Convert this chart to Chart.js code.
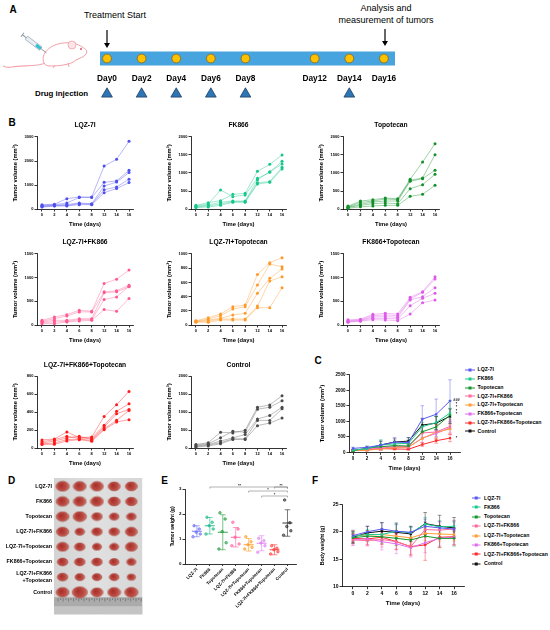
<!DOCTYPE html>
<html><head><meta charset="utf-8">
<script src="https://cdn.jsdelivr.net/npm/chart.js@4.4.0/dist/chart.umd.min.js"></script>
<style>
html,body{margin:0;padding:0;background:#fff;}
#page{position:relative;width:550px;height:630px;overflow:hidden;font-family:"Liberation Sans",Arial,sans-serif;color:#000;}
canvas{position:absolute;}
.t{position:absolute;white-space:nowrap;color:#000;}
</style></head><body><div id="page">
<svg width="95" height="45" style="position:absolute;left:0;top:30px">
 <path d="M46,33 C36,37 22,35 12,37 C8,38 5,37 3,36" fill="none" stroke="#f4a7b0" stroke-width="1.2"/>
 <path d="M44,33 C40,24 50,14 64,13 C72,12 78,14 82,17 C86,19 88,21 86,24 C84,27 80,28 76,30 C72,34 62,36 50,36 C47,36 45,35 44,33 Z" fill="#fff" stroke="#f2a0a8" stroke-width="1"/>
 <ellipse cx="72" cy="15" rx="4" ry="4" fill="#fce4e7" stroke="#f2a0a8" stroke-width="0.8"/>
 <circle cx="81" cy="19" r="0.9" fill="#d94060"/>
 <path d="M55,35 l-2,3 M68,33 l1,4" stroke="#f2a0a8" stroke-width="1"/>
 <g transform="rotate(37 36 15)">
  <rect x="24" y="13" width="18" height="4" fill="#e8eef3" stroke="#8a9aa8" stroke-width="0.6"/>
  <rect x="36" y="13.5" width="6" height="3" fill="#33c0d0"/>
  <line x1="42" y1="15" x2="49" y2="15" stroke="#666" stroke-width="0.6"/>
  <line x1="19" y1="15" x2="24" y2="15" stroke="#8a9aa8" stroke-width="1"/>
  <line x1="19" y1="12.5" x2="19" y2="17.5" stroke="#8a9aa8" stroke-width="1"/>
 </g>
</svg>
<svg width="550" height="60" style="position:absolute;left:0;top:0">
 <line x1="107" y1="30" x2="107" y2="44" stroke="#000" stroke-width="1.2"/>
 <polygon points="104,43 110,43 107,48" fill="#000"/>
 <line x1="385" y1="29" x2="385" y2="42" stroke="#000" stroke-width="1.2"/>
 <polygon points="382,41 388,41 385,46" fill="#000"/>
</svg>
</div>
<script>
// ===================== DATA =====================
const dayTickLabels = ['0','2','4','6','8','12','14','16'];
const timelineDays = [0,2,4,6,8,12,14,16];
const injectionDays = [0,2,4,6,8,14];
const groups = ['LQZ-7I','FK866','Topotecan','LQZ-7I+FK866','LQZ-7I+Topotecan','FK866+Topotecan','LQZ-7I+FK866+Topotecan','Control'];
const photoLabels = [['LQZ-7I'],['FK866'],['Topotecan'],['LQZ-7I+FK866'],['LQZ-7I+Topotecan'],['FK866+Topotecan'],['LQZ-7I+FK866','+Topotecan'],['Control']];

// B: individual tumor volumes (mm³), one row per mouse, days 0..16
const volLQZ7I = [
 [180,200,430,500,500,1790,2070,2820],
 [150,180,250,480,480,1110,1170,1610],
 [120,160,190,250,220,960,1120,1520],
 [100,140,150,220,200,800,920,1240],
 [80,120,130,180,180,680,850,1100]];
const volFK866 = [
 [102,176,231,407,435,1046,1240,1500],
 [83,139,528,343,389,852,1019,1324],
 [65,111,185,222,222,806,1037,1250],
 [56,83,139,204,204,732,760,1157],
 [37,56,102,185,185,694,741,1111]];
const volTopotecan = [
 [80,220,259,305,287,824,1305,1815],
 [60,180,222,278,259,796,861,1510],
 [50,130,194,222,222,768,843,1075],
 [40,100,148,167,148,565,676,963],
 [20,60,83,102,102,352,407,657]];
const volLQZ_FK = [
 [99,170,219,311,290,877,969,1160],
 [78,134,191,276,276,700,721,841],
 [64,99,99,134,134,680,700,806],
 [50,64,78,113,113,537,594,820],
 [28,28,64,85,99,325,290,560]];
const volLQZ_Topo = [
 [60,103,155,258,281,713,877,947],
 [55,84,131,225,258,563,858,821],
 [50,70,94,141,164,446,657,788],
 [45,56,84,84,84,267,619,680],
 [40,38,70,70,70,244,244,525]];
const volFK_Topo = [
 [110,120,225,246,232,584,704,1020],
 [90,110,197,211,197,549,690,971],
 [80,100,169,176,162,528,598,788],
 [70,90,141,141,127,408,563,669],
 [60,80,113,106,92,232,471,528]];
const volTriple = [
 [90,100,178,115,122,351,481,629],
 [70,93,130,107,111,252,407,492],
 [55,78,111,130,96,233,381,429],
 [45,56,93,100,85,215,307,418],
 [40,41,78,93,74,204,289,315]];
const volControl = [
 [100,146,438,420,493,1132,1196,1452],
 [82,119,283,466,438,1077,1132,1315],
 [55,100,192,283,374,803,904,1132],
 [37,82,146,256,256,767,767,1087],
 [27,55,119,237,237,621,694,831]];

// C: mean tumor volume and SD per group
const cMean = [
 [126,160,230,326,316,1068,1226,1658],
 [69,113,237,272,287,826,959,1268],
 [50,138,181,215,204,661,818,1204],
 [64,99,130,184,182,624,655,837],
 [50,70,107,156,171,447,651,752],
 [82,100,169,176,162,460,605,795],
 [60,74,118,109,98,251,373,457],
 [60,100,236,332,360,880,939,1163]];
const cSD = [
 [40,32,121,152,159,435,490,681],
 [25,47,170,97,115,137,209,152],
 [22,63,68,81,76,200,327,455],
 [27,56,70,102,92,206,245,213],
 [8,25,36,84,96,201,254,159],
 [19,16,44,55,55,143,95,206],
 [20,25,39,14,19,59,78,115],
 [31,34,130,103,112,216,219,237]];

// D: tumor sizes in the photo (relative radius), rows = groups, 5 tumors each
const tumorSize = [
 [6.0,5.8,5.8,5.4,5.4],
 [5.8,5.8,5.8,5.4,5.2],
 [5.8,6.0,4.8,4.4,4.4],
 [5.6,4.4,4.8,4.8,5.4],
 [5.4,4.8,4.2,4.2,5.4],
 [4.8,4.8,4.8,4.4,4.2],
 [4.8,4.4,4.4,4.4,3.8],
 [5.8,6.8,5.4,5.8,6.0]];

// E: tumor weights (g)
const wLQZ7I = [1.53,1.40,1.27,1.20,1.09];
const wFK866 = [1.87,1.67,1.53,1.40,1.20];
const wTopotecan = [2.05,1.80,1.30,0.85,0.60];
const wLQZ_FK = [1.67,1.40,1.07,0.80,0.73];
const wLQZ_Topo = [1.09,0.89,0.77,0.67,0.60];
const wFK_Topo = [1.03,0.93,0.84,0.73,0.47];
const wTriple = [0.73,0.63,0.57,0.49,0.40];
const wControl = [2.56,1.65,1.50,1.33,1.15];
const wMean = [1.31,1.53,1.27,1.07,0.77,0.83,0.57,1.64];
const wSD = [0.22,0.33,0.70,0.39,0.25,0.30,0.20,0.53];
const eBrackets = [
 {from:1,to:7,y:3.08,label:'**',at:3.3},
 {from:6,to:7,y:3.08,label:'**',at:6.5},
 {from:4,to:7,y:2.92,label:'*',at:5.5},
 {from:5,to:7,y:2.72,label:'*',at:6.0}];

// F: body weight mean and SD (g)
const fMean = [
 [19.3,20.0,20.5,20.1,19.9,21.0,20.7,20.5],
 [19.2,19.5,19.5,20.1,19.8,21.4,20.9,21.0],
 [18.9,19.2,19.1,18.8,18.5,19.2,18.8,18.8],
 [18.5,18.4,18.6,18.2,17.3,20.4,20.3,20.5],
 [19.3,19.4,19.5,19.2,18.9,19.7,19.6,19.5],
 [18.6,18.7,18.2,17.8,17.1,18.0,18.8,19.0],
 [18.8,18.7,19.0,18.2,17.3,17.6,19.0,19.1],
 [19.0,19.8,20.1,19.9,19.6,21.5,21.0,20.7]];
const fSD = [
 [1.0,1.0,1.1,1.2,1.0,1.3,1.2,1.3],
 [0.8,0.9,1.0,1.3,1.0,1.2,1.1,1.0],
 [0.9,1.0,1.2,1.3,1.2,1.5,1.6,1.4],
 [1.0,1.0,1.4,1.5,1.6,1.4,1.5,1.6],
 [0.9,0.8,1.0,1.1,1.2,1.3,1.3,1.2],
 [1.0,1.2,1.5,1.8,1.7,1.8,1.4,1.3],
 [0.8,1.0,1.3,1.4,1.5,2.8,1.9,1.5],
 [1.1,1.2,1.6,1.7,1.4,2.0,2.0,1.9]];

// ===================== STYLE =====================
const colMain = ['#5a5af2','#1ec98e','#16962a','#ff6a9c','#ff9e33','#e06cf0','#ff2b2b','#111111'];
const colPt = ['#4f4ff0','#18c68a','#12902a','#ff5a92','#ff9a2a','#dc5ce6','#ff1a1a','#4a4a4a'];
const colE = ['#6a6af5','#15b985','#1c9a38','#ff5c9c','#ff9a20','#e07ef0','#ff3535','#222222'];
const FONT = '"Liberation Sans", Arial, sans-serif';
Chart.defaults.font.family = FONT;
Chart.defaults.color = '#000';
Chart.defaults.animation = false;
Chart.defaults.responsive = false;
Chart.defaults.plugins.legend.display = false;
Chart.defaults.plugins.tooltip.enabled = false;
const page = document.getElementById('page');

function rgba(hex,a){const n=parseInt(hex.slice(1),16);return `rgba(${n>>16},${(n>>8)&255},${n&255},${a})`;}
function mkCanvas(l,t,w,h){const c=document.createElement('canvas');c.width=w;c.height=h;c.style.left=l+'px';c.style.top=t+'px';page.appendChild(c);return c;}
function txt(s,x,y,o={}){
  const d=document.createElement('div');d.className='t';d.textContent=s;
  const size=o.size||8;
  d.style.fontSize=size+'px';d.style.lineHeight=size+'px';d.style.fontWeight=o.weight||'normal';
  d.style.top=(y-size/2)+'px';
  if(o.align==='center'){d.style.left=x+'px';d.style.transform='translateX(-50%)';}
  else if(o.align==='right'){d.style.right=(550-x)+'px';}
  else d.style.left=x+'px';
  page.appendChild(d);
}
function frame(f){
  const l=Math.floor(f.x0-f.yW-(f.padL??2));
  const r=Math.ceil(f.x1+(f.padR??10));
  let t,layoutTop,titleCfg={display:false};
  if(f.title){
    const th=f.titleSize*1.2, tTop=f.titleCy-th/2;
    t=Math.floor(tTop-1);layoutTop=tTop-t;
    titleCfg={display:true,text:f.title,fullSize:false,color:'#000',font:{size:f.titleSize,weight:'bold',lineHeight:1.2},padding:{top:0,bottom:f.y0-(f.titleCy+th/2)}};
  } else {t=Math.floor(f.y0-(f.padT??6));layoutTop=f.y0-t;}
  const b=Math.ceil(f.y1+f.xH+(f.padB??2));
  const cv=mkCanvas(l,t,r-l,b-t);
  return {cv,titleCfg,padding:{left:f.x0-f.yW-l,right:r-f.x1,top:layoutTop,bottom:b-f.y1-f.xH}};
}
const gridOpt={display:true,drawOnChartArea:false,drawTicks:true,tickLength:2.5,color:'#000',lineWidth:0.8};
const borderOpt={display:true,color:'#000',width:0.8};
function yAxis(o){return{type:'linear',min:o.min,max:o.max,
  ticks:{stepSize:o.step,font:{size:o.tick,weight:'bold'},padding:1,color:'#000',callback:v=>String(v)},
  grid:gridOpt,border:borderOpt,
  title:{display:true,text:o.title,color:'#000',font:{size:o.titleSize,weight:'bold',lineHeight:1.2},padding:0},
  afterFit:s=>{s.width=o.w;}};}
function xAxis(o){return{type:'linear',min:o.min,max:o.max,
  afterBuildTicks:s=>{s.ticks=o.labels.map((_,i)=>({value:i}));},
  ticks:{autoSkip:false,maxRotation:o.rot||0,minRotation:o.rot||0,font:{size:o.tick,weight:'bold'},padding:1,color:'#000',callback:v=>o.labels[Math.round(v)]},
  grid:Object.assign({},gridOpt,{tickLength:o.tl??2.5}),border:borderOpt,
  title:{display:!!o.title,text:o.title,color:'#000',font:{size:o.titleSize,weight:'bold',lineHeight:1.2},padding:0},
  afterFit:s=>{s.height=o.h;}};}

// ===================== PANEL LETTERS & TEXT =====================
[['A',13,10],['B',12,123],['C',318,360.5],['D',11.5,481],['E',164.5,481],['F',315,481]].forEach(([s,x,y])=>txt(s,x,y,{size:10,weight:'bold',align:'center'}));
txt('Treatment Start',115,15,{size:9,align:'center'});
txt('Analysis and',386,8.5,{size:9,align:'center'});
txt('measurement of tumors',386,20.5,{size:9,align:'center'});
txt('Drug injection',61.5,94,{size:7.9,weight:'bold',align:'center'});

// ===================== A: timeline =====================
(function(){
  const cv=mkCanvas(0,40,550,50);
  const barPlugin={id:'bar',beforeDatasetsDraw(ch){const a=ch.chartArea,c=ch.ctx;c.save();c.fillStyle='#47a4de';c.fillRect(a.left,a.top,a.right-a.left,a.bottom-a.top);c.restore();}};
  new Chart(cv,{type:'scatter',
    data:{datasets:[{data:timelineDays.map(d=>({x:d,y:0.5})),pointRadius:4.4,pointBackgroundColor:'#ffc000',pointBorderColor:'#8a6a10',pointBorderWidth:0.8,clip:false}]},
    options:{layout:{padding:{left:100,right:155,top:11.5,bottom:4.5}},
      scales:{x:{type:'linear',min:-0.404,max:16.64,afterBuildTicks:s=>{s.ticks=timelineDays.map(v=>({value:v}));},
        ticks:{autoSkip:false,maxRotation:0,font:{size:8.3,weight:'bold'},padding:8,color:'#000',callback:v=>'Day'+v},
        grid:{display:false,drawTicks:false},border:{display:false},afterFit:s=>{s.height=20;}},
        y:{display:false,min:0,max:1}}},
    plugins:[barPlugin]});
  const cv2=mkCanvas(0,86,550,16);
  new Chart(cv2,{type:'scatter',
    data:{datasets:[{data:injectionDays.map(d=>({x:d,y:0.5})),pointStyle:'triangle',pointRadius:6.2,pointBackgroundColor:'#2e75b6',pointBorderColor:'#1f3f60',pointBorderWidth:0.8,clip:false}]},
    options:{layout:{padding:{left:100,right:155,top:0,bottom:0}},
      scales:{x:{display:false,type:'linear',min:-0.404,max:16.64},y:{display:false,min:0,max:1}}}});
})();

// ===================== B: individual growth curves =====================
const bCols=[{x0:37,x1:133},{x0:191,x1:286},{x0:343,x1:439}];
const bRows=[{ty:125,y0:137,y1:209},{ty:242,y0:254,y1:325},{ty:365,y0:376,y1:448}];
const bPanels=[
 {vols:volLQZ7I,max:3000,step:1000,c:0,r:0,g:0},
 {vols:volFK866,max:2000,step:500,c:1,r:0,g:1},
 {vols:volTopotecan,max:2000,step:500,c:2,r:0,g:2},
 {vols:volLQZ_FK,max:1500,step:500,c:0,r:1,g:3},
 {vols:volLQZ_Topo,max:1000,step:200,c:1,r:1,g:4},
 {vols:volFK_Topo,max:1500,step:500,c:2,r:1,g:5},
 {vols:volTriple,max:800,step:200,c:0,r:2,g:6},
 {vols:volControl,max:2000,step:500,c:1,r:2,g:7}];
bPanels.forEach(p=>{
  const C=bCols[p.c],R=bRows[p.r];
  const f=frame({x0:C.x0,x1:C.x1,y0:R.y0,y1:R.y1,yW:25.5,xH:18.5,title:groups[p.g],titleSize:6.7,titleCy:R.ty});
  const lineCol = p.g===7 ? 'rgba(120,120,120,0.55)' : rgba(colPt[p.g],0.45);
  new Chart(f.cv,{type:'scatter',
    data:{datasets:p.vols.map(v=>({data:v.map((y,i)=>({x:i,y})),showLine:true,borderColor:lineCol,borderWidth:0.9,
      pointRadius:1.5,pointBackgroundColor:colPt[p.g],pointBorderWidth:0,clip:false}))},
    options:{layout:{padding:f.padding},plugins:{title:f.titleCfg},
      scales:{x:xAxis({min:-0.4,max:7.32,labels:dayTickLabels,tick:4,h:18.5,title:'Time (days)',titleSize:5.8}),
              y:yAxis({min:0,max:p.max,step:p.step,tick:4,w:25.5,title:'Tumor volume (mm³)',titleSize:5.8})}}});
});

// error bar plugin for C and F
const errPlugin={id:'errbars',beforeDatasetsDraw(ch){
  const c=ch.ctx,x=ch.scales.x,y=ch.scales.y;
  ch.data.datasets.forEach(ds=>{
    if(!ds.errorBars)return;
    c.save();c.strokeStyle=ds.borderColor;c.globalAlpha=0.75;c.lineWidth=0.6;
    ds.data.forEach((p,i)=>{
      const e=ds.errorBars[i],px=x.getPixelForValue(p.x),yt=y.getPixelForValue(p.y+e),yb=y.getPixelForValue(p.y-e);
      c.beginPath();c.moveTo(px,yt);c.lineTo(px,yb);c.moveTo(px-1.8,yt);c.lineTo(px+1.8,yt);c.moveTo(px-1.8,yb);c.lineTo(px+1.8,yb);c.stroke();
    });
    c.restore();
  });
}};
function meanSets(means,sds){return means.map((m,g)=>({data:m.map((y,i)=>({x:i,y})),errorBars:sds[g],showLine:true,borderColor:colMain[g],borderWidth:1,
  pointStyle:'rect',pointRadius:1.6,pointBackgroundColor:colMain[g],pointBorderWidth:0,clip:false}));}
function legend(x0,ys,lineW,textX,fs){
  groups.forEach((g,i)=>{
    const y=ys[i];
    const s=document.createElementNS('http://www.w3.org/2000/svg','svg');
    s.setAttribute('width',lineW);s.setAttribute('height',6);
    s.style.cssText=`position:absolute;left:${x0}px;top:${y-3}px;overflow:visible`;
    s.innerHTML=`<line x1="0" y1="3" x2="${lineW}" y2="3" stroke="${colMain[i]}" stroke-width="1"/><rect x="${lineW/2-1.5}" y="1.5" width="3" height="3" fill="${colMain[i]}"/>`;
    page.appendChild(s);
    txt(g,textX,y,{size:fs,weight:'bold'});
  });
}

// ===================== C: mean tumor volume =====================
(function(){
  const f=frame({x0:349,x1:460,y0:374.8,y1:452.3,yW:30.5,xH:19.2,padR:4});
  const stars={id:'cstars',afterDatasetsDraw(ch){
    const c=ch.ctx,x=ch.scales.x,y=ch.scales.y;c.save();c.fillStyle='#000';c.font='bold 3.8px '+FONT;c.textAlign='center';c.textBaseline='middle';
    const px=x.getPixelForValue(7)+6.5;
    [['###',1690],['*',1560],['*',1450],['*',1340],['*',1230],['*',460]].forEach(([s,v])=>c.fillText(s,px,y.getPixelForValue(v)));
    c.restore();}};
  new Chart(f.cv,{type:'scatter',data:{datasets:meanSets(cMean,cSD)},
    options:{layout:{padding:f.padding},
      scales:{x:xAxis({min:-0.29,max:7.72,labels:dayTickLabels,tick:4.5,h:19.2,title:'Time (days)',titleSize:5.8}),
              y:yAxis({min:0,max:2500,step:500,tick:4.5,w:30.5,title:'Tumor volume (mm³)',titleSize:5.8})}},
    plugins:[errPlugin,stars]});
  legend(465,[370,378.7,387.7,396.3,405,413.7,422.7,431.3],10,477.5,5.2);
})();

// ===================== D: tumor photo =====================
(function(){
  const f=frame({x0:54,x1:145,y0:478,y1:620,yW:54,xH:0,padL:0,padR:5,padT:8,padB:2});
  const pts=[],imgs=[];
  tumorSize.forEach((row,i)=>row.forEach((r,j)=>{
    pts.push({x:j+0.5,y:i+0.55,r});
    const rx=1.12*r,ry=0.82*r,cv=document.createElement('canvas');
    cv.width=Math.ceil(2*rx+2);cv.height=Math.ceil(2*ry+2);
    const c=cv.getContext('2d'),cx=cv.width/2,cy=cv.height/2;
    const gr=c.createRadialGradient(cx-rx*0.25,cy-ry*0.25,0.5,cx,cy,rx);
    gr.addColorStop(0,'#a8302c');gr.addColorStop(0.6,'#bb4b42');gr.addColorStop(1,'#cf7a6e');
    c.fillStyle=gr;c.beginPath();c.ellipse(cx,cy,rx,ry,0,0,Math.PI*2);c.fill();
    c.strokeStyle='#9a3a33';c.lineWidth=0.5;c.stroke();
    imgs.push(cv);
  }));
  const photo={id:'photo',beforeDatasetsDraw(ch){
    const a=ch.chartArea,c=ch.ctx;c.save();
    const g=c.createLinearGradient(a.left,0,a.right,0);g.addColorStop(0,'#d3d3d3');g.addColorStop(0.5,'#e0e0e0');g.addColorStop(1,'#d6d6d6');
    c.fillStyle=g;c.fillRect(a.left,a.top,a.right-a.left,a.bottom-a.top);
    const rt=a.bottom-17;
    c.fillStyle='#ababab';c.fillRect(a.left,rt,a.right-a.left,17);
    c.fillStyle='#c4c4c4';c.fillRect(a.left,rt+9,a.right-a.left,8);
    c.strokeStyle='#4a4a4a';c.lineWidth=0.5;
    for(let k=0;k<=32;k++){const x=a.left+4+k*2.6;const L=k%2===0?3.2:1.8;c.beginPath();c.moveTo(x,rt+1);c.lineTo(x,rt+1+L);c.stroke();}
    c.restore();}};
  new Chart(f.cv,{type:'bubble',
    data:{datasets:[{data:pts,pointStyle:ctx=>imgs[ctx.dataIndex],backgroundColor:'#bb4b42',clip:false}]},
    options:{layout:{padding:f.padding},
      scales:{x:{type:'linear',min:0,max:5.13,display:false},
        y:{type:'linear',reverse:true,min:0,max:9,afterBuildTicks:s=>{s.ticks=photoLabels.map((_,i)=>({value:i+0.55}));},
          ticks:{autoSkip:false,font:{size:5.3,weight:'bold'},padding:2,color:'#000',callback:(v,i)=>photoLabels[i]},
          grid:{display:false,drawTicks:false},border:{display:false},afterFit:s=>{s.width=54;}}}},
    plugins:[photo]});
})();

// ===================== E: tumor weight =====================
(function(){
  const f=frame({x0:185,x1:297,y0:489,y1:564,yW:15,xH:50,padT:12,padR:4});
  const weights=[wLQZ7I,wFK866,wTopotecan,wLQZ_FK,wLQZ_Topo,wFK_Topo,wTriple,wControl];
  const dotSpread=[-0.22,0.18,-0.05,0.26,-0.3];
  const sets=weights.map((w,g)=>({data:w.map((v,k)=>({x:g+dotSpread[k],y:v})),pointRadius:1.3,
    pointBackgroundColor:rgba(colE[g],0.55),pointBorderColor:colE[g],pointBorderWidth:0.6,clip:false}));
  const stats={id:'estats',afterDatasetsDraw(ch){
    const c=ch.ctx,x=ch.scales.x,y=ch.scales.y;c.save();
    wMean.forEach((m,g)=>{
      const px=x.getPixelForValue(g),ym=y.getPixelForValue(m),yt=y.getPixelForValue(m+wSD[g]),yb=y.getPixelForValue(m-wSD[g]);
      c.strokeStyle=colE[g];c.lineWidth=0.9;
      c.beginPath();c.moveTo(px-5,ym);c.lineTo(px+5,ym);c.stroke();
      c.lineWidth=0.6;c.beginPath();c.moveTo(px,yt);c.lineTo(px,yb);c.moveTo(px-2.8,yt);c.lineTo(px+2.8,yt);c.moveTo(px-2.8,yb);c.lineTo(px+2.8,yb);c.stroke();
    });
    c.strokeStyle='#666';c.lineWidth=0.5;c.fillStyle='#333';c.font='bold 4px '+FONT;c.textAlign='center';c.textBaseline='bottom';
    eBrackets.forEach(b=>{
      const x1=x.getPixelForValue(b.from),x2=x.getPixelForValue(b.to),py=y.getPixelForValue(b.y);
      c.beginPath();c.moveTo(x1,py+1.6);c.lineTo(x1,py);c.lineTo(x2,py);c.lineTo(x2,py+1.6);c.stroke();
      c.fillText(b.label,x.getPixelForValue(b.at),py+0.8);
    });
    c.restore();}};
  new Chart(f.cv,{type:'scatter',data:{datasets:sets},
    options:{layout:{padding:f.padding},
      scales:{x:xAxis({min:-0.92,max:7.69,labels:groups,tick:4.4,h:50,rot:45,tl:2}),
              y:yAxis({min:0,max:3,step:1,tick:4.4,w:15,title:'Tumor weight (g)',titleSize:5})}},
    plugins:[stats]});
})();

// ===================== F: body weight =====================
(function(){
  const f=frame({x0:342,x1:464,y0:504.3,y1:586.7,yW:23,xH:20,padR:4});
  new Chart(f.cv,{type:'scatter',data:{datasets:meanSets(fMean,fSD)},
    options:{layout:{padding:f.padding},
      scales:{x:xAxis({min:-0.76,max:7.69,labels:dayTickLabels,tick:5,h:20,title:'Time (days)',titleSize:6.2}),
              y:yAxis({min:10,max:25,step:5,tick:5,w:23,title:'Body weight (g)',titleSize:5.3})}},
    plugins:[errPlugin]});
  legend(471.7,[498.3,507.3,516.7,526,535.7,545,554.3,564],8.5,484,5.2);
})();
</script>
</body></html>
